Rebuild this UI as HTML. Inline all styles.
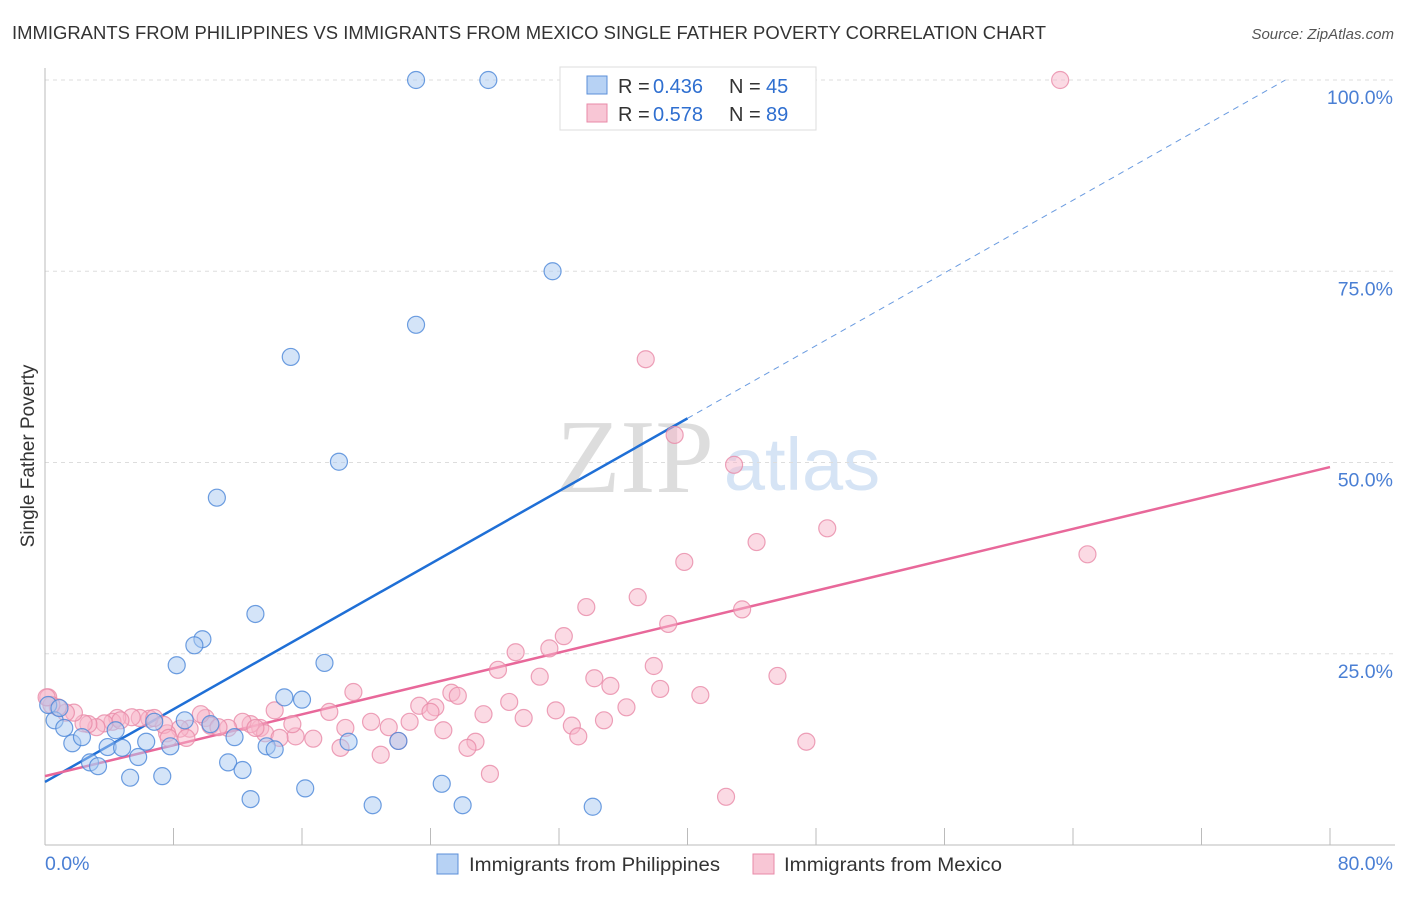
<!DOCTYPE html>
<html><head><meta charset="utf-8"><style>
body{margin:0;background:#fff;font-family:"Liberation Sans",sans-serif}
svg text{font-family:"Liberation Sans",sans-serif}
</style></head><body>
<svg id="chart" width="1406" height="892" xmlns="http://www.w3.org/2000/svg">
<text x="12" y="39" font-size="18.6" fill="#333" textLength="1034" lengthAdjust="spacingAndGlyphs">IMMIGRANTS FROM PHILIPPINES VS IMMIGRANTS FROM MEXICO SINGLE FATHER POVERTY CORRELATION CHART</text>
<text x="1394" y="39" font-size="15" fill="#555" font-style="italic" text-anchor="end">Source: ZipAtlas.com</text>
<g>
<text x="635" y="492" font-size="105" fill="#ddd" text-anchor="middle" style="font-family:'Liberation Serif',serif">ZIP</text>
<text x="802" y="490" font-size="74" fill="#d6e4f5" text-anchor="middle">atlas</text>
</g>
<text transform="translate(34,456) rotate(-90)" font-size="19" fill="#333" text-anchor="middle">Single Father Poverty</text>
<g id="grid"></g><g id="axes"></g><g id="trend"></g><g id="points"></g>
<g>
<rect x="560" y="67" width="256" height="63" fill="#fff" stroke="#ddd"/>
<rect x="587" y="76" width="20" height="18" fill="#b7d2f4" stroke="#5b8fd8"/>
<text x="618" y="93" font-size="20" fill="#333">R =</text>
<text x="653" y="93" font-size="20" fill="#2f6fd0">0.436</text>
<text x="729" y="93" font-size="20" fill="#333">N =</text>
<text x="766" y="93" font-size="20" fill="#2f6fd0">45</text>
<rect x="587" y="104" width="20" height="18" fill="#f8c6d5" stroke="#e88aa8"/>
<text x="618" y="121" font-size="20" fill="#333">R =</text>
<text x="653" y="121" font-size="20" fill="#2f6fd0">0.578</text>
<text x="729" y="121" font-size="20" fill="#333">N =</text>
<text x="766" y="121" font-size="20" fill="#2f6fd0">89</text>
</g>
<g>
<rect x="437" y="854" width="21" height="20" fill="#b7d2f4" stroke="#5b8fd8"/>
<text x="469" y="871" font-size="19.5" fill="#333" textLength="251" lengthAdjust="spacingAndGlyphs">Immigrants from Philippines</text>
<rect x="753" y="854" width="21" height="20" fill="#f8c6d5" stroke="#e88aa8"/>
<text x="784" y="871" font-size="19.5" fill="#333" textLength="218" lengthAdjust="spacingAndGlyphs">Immigrants from Mexico</text>
</g>
</svg>
<script>
const yTicks=[25,50,75,100];
const yTickLabels=["25.0%","50.0%","75.0%","100.0%"];
const xTicks=[0,8,16,24,32,40,48,56,64,72,80];
const blueX=[23.1,27.6,31.6,23.1,15.3,18.3,10.7,13.1,9.8,9.3,8.2,17.4,14.9,16.0,8.7,10.3,11.8,13.8,14.3,18.9,22.0,0.6,0.2,0.9,1.2,1.7,2.3,2.8,3.3,3.9,4.4,4.8,5.8,6.3,6.8,7.8,5.3,7.3,11.4,12.3,12.8,16.2,20.4,24.7,26.0,34.1];
const blueY=[100,100,75.0,68.0,63.8,50.1,45.4,30.2,26.9,26.1,23.5,23.8,19.3,19.0,16.3,15.8,14.1,12.9,12.5,13.5,13.6,16.3,18.3,17.9,15.3,13.3,14.1,10.8,10.3,12.8,15.0,12.7,11.5,13.5,16.1,12.9,8.8,9.0,10.8,9.8,6.0,7.4,5.2,8.0,5.2,5.0];
const pinkX=[63.2,37.4,39.2,42.9,48.7,44.3,64.9,39.8,43.4,33.7,36.9,38.8,32.3,29.3,31.4,37.9,28.2,30.8,34.2,35.2,38.3,40.8,19.2,25.3,25.7,45.6,28.9,36.2,31.8,23.3,24.3,24.0,27.3,17.7,14.3,29.8,34.8,32.8,33.2,20.3,18.7,21.4,22.7,24.8,26.8,26.3,20.9,22.0,16.7,15.6,15.4,13.4,13.7,12.8,12.3,11.4,10.0,10.3,10.8,9.0,8.4,7.6,7.4,6.5,5.9,5.4,4.5,4.2,3.7,3.2,2.7,2.4,1.8,1.3,0.8,0.2,0.4,9.7,8.8,7.7,18.4,27.7,42.4,47.4,13.1,14.6,4.7,6.8,0.1];
const pinkY=[100,63.5,53.6,49.7,41.4,39.6,38.0,37.0,30.8,31.1,32.4,28.9,27.3,25.2,25.7,23.4,22.9,22.0,21.8,20.8,20.4,19.6,20.0,19.9,19.5,22.1,18.7,18.0,17.6,18.2,18.0,17.4,17.1,17.4,17.6,16.6,16.3,15.6,14.2,16.1,15.3,15.4,16.1,15.0,13.5,12.7,11.8,13.6,13.9,14.2,15.8,15.3,14.6,15.8,16.1,15.3,16.6,15.6,15.4,15.2,15.2,14.6,15.7,16.5,16.6,16.7,16.6,16.1,15.9,15.4,15.8,15.9,17.3,17.3,18.0,19.3,18.3,17.1,14.0,14.0,12.7,9.3,6.3,13.5,15.3,14.0,16.3,16.6,19.3];
const blueTrend=[8.24,103.3];
const pinkTrend=[9.0,49.4];
const NS="http://www.w3.org/2000/svg";
const X=v=>45+v/80*1285, Y=v=>845-v/100*765;
function mk(parent,tag,attrs){const e=document.createElementNS(NS,tag);for(const k in attrs)e.setAttribute(k,attrs[k]);document.getElementById(parent).appendChild(e);return e;}
yTicks.forEach((t,i)=>{
 const l=mk('grid','line',{x1:45,x2:1395,y1:Y(t),y2:Y(t),stroke:'#ddd','stroke-dasharray':'4,4'});
 
 
 const tx=mk('grid','text',{x:1393,y:Y(t)+24,'font-size':19.5,fill:'#4a7fd4','text-anchor':'end'});
 tx.textContent=yTickLabels[i];
 
 
});
let a=mk('axes','line',{x1:45,x2:45,y1:68,y2:845,stroke:'#bbb'});


a=mk('axes','line',{x1:45,x2:1395,y1:845,y2:845,stroke:'#bbb'});


xTicks.forEach(t=>{const l=mk('axes','line',{x1:X(t),x2:X(t),y1:828,y2:845,stroke:'#bbb'});
 
 });
let t=mk('axes','text',{x:45,y:870,'font-size':19.5,fill:'#4a7fd4'});t.textContent='0.0%';


t=mk('axes','text',{x:1393,y:870,'font-size':19.5,fill:'#4a7fd4','text-anchor':'end'});t.textContent='80.0%';


function series(xs,ys,fill,stroke,name){xs.forEach((x,i)=>{const c=mk('points','circle',{cx:X(x),cy:Y(ys[i]),r:8.5,fill:fill,'fill-opacity':0.5,stroke:stroke,'stroke-opacity':0.8,'stroke-width':1.2});
 
 });}
series(pinkX,pinkY,'#f7b6ca','#e88aa8','mexico-point');
series(blueX,blueY,'#a9c9f2','#4a86d8','philippines-point');
const bAt=x=>blueTrend[0]+(blueTrend[1]-blueTrend[0])*x/80;
let tl=mk('trend','line',{x1:X(0),y1:Y(bAt(0)),x2:X(40),y2:Y(bAt(40)),stroke:'#1f6fd6','stroke-width':2.5});


const xe=(100-blueTrend[0])/(blueTrend[1]-blueTrend[0])*80;
tl=mk('trend','line',{x1:X(40),y1:Y(bAt(40)),x2:X(xe),y2:Y(bAt(xe)),stroke:'#6a9be0','stroke-width':1,'stroke-dasharray':'6,5'});


tl=mk('trend','line',{x1:X(0),y1:Y(pinkTrend[0]),x2:X(80),y2:Y(pinkTrend[1]),stroke:'#e8689a','stroke-width':2.5});


</script>
</body></html>
